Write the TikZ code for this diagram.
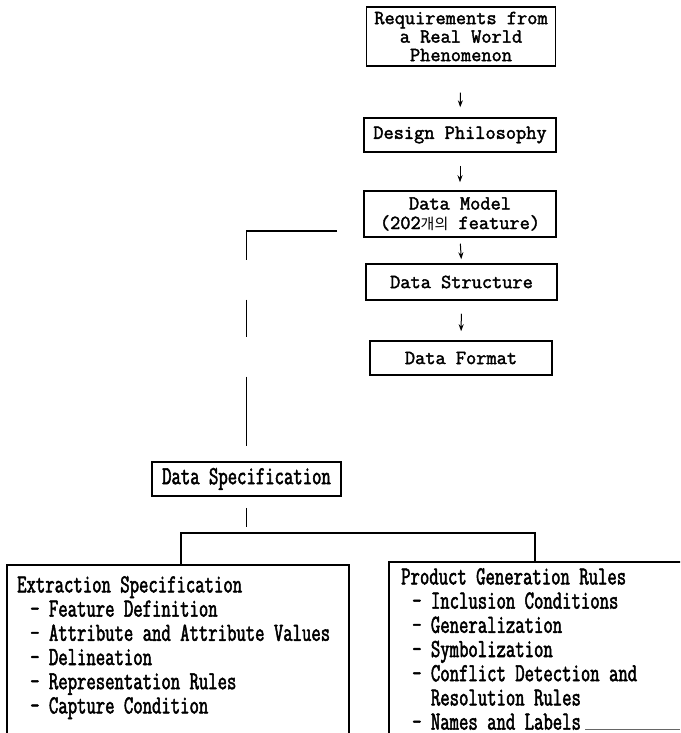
\documentclass[tikz,border=0pt]{standalone}
\usepackage{fontspec}
\usetikzlibrary{arrows.meta}
\newfontfamily\topf{Latin Modern Mono}[FakeStretch=0.99,FakeBold=2]
\newfontfamily\lowf{Latin Modern Mono}[FakeStretch=0.70,FakeBold=2]
\newfontfamily\krf{Noto Sans CJK KR}
\tikzset{
  box/.style={draw=black, line width=1.5pt, rectangle, inner sep=0pt, align=center, font=\topf\fontsize{20}{18.5}\selectfont},
  lowbox/.style={draw=black, line width=1.5pt, rectangle, inner sep=0pt, align=center, font=\lowf\fontsize{26}{24.5}\selectfont},
  listtext/.style={inner sep=0pt, align=left, anchor=north west, font=\lowf\fontsize{26}{24.2}\selectfont},
  arr/.style={line width=1pt, -{Stealth[length=7pt,width=5pt]}},
  conn/.style={line width=1.3pt},
  gappy/.style={line width=1.1pt, dash pattern=on 119pt off 40pt on 37pt off 40pt on 80pt}
}
\begin{document}
\begin{tikzpicture}[x=1pt,y=-1pt]
\useasboundingbox (0,0) rectangle (680,733);
\clip (0,0) rectangle (680,733);
% top column
\node[box, minimum width=189pt, minimum height=59pt] (req) at (461,36.5) {Requirements from\\a Real World\\Phenomenon};
\node[box, minimum width=192pt, minimum height=34pt] (dp) at (460,135) {Design Philosophy};
\node[box, minimum width=192pt, minimum height=46pt] (dm) at (460,214) {Data Model\\[1pt](202{\krf\fontsize{15}{15}\selectfont 개의} feature)};
\node[box, minimum width=191pt, minimum height=36pt] (ds) at (461.5,282) {Data Structure};
\node[box, minimum width=182pt, minimum height=34pt] (df) at (461,358) {Data Format};
\draw[arr, shorten <=26pt, shorten >=10pt] (req.south) -- (dp.north);
\draw[arr, shorten <=13pt, shorten >=8pt] (dp.south) -- (dm.north);
\draw[arr, shorten <=6pt, shorten >=4pt] (dm.south) -- (ds.north);
\draw[arr, shorten <=13pt, shorten >=9pt] (ds.south) -- (df.north);
% data specification
\node[lowbox, minimum width=189pt, minimum height=34pt] (spec) at (246.5,479) {Data Specification};
\coordinate (dmL) at (337,231);
\draw[gappy] (dmL) -| ([yshift=15pt]spec.north);
\draw[conn] ([yshift=-11pt]spec.south) -- ([yshift=-30pt]spec.south);
% bottom boxes
\node[draw=black, line width=1.5pt, rectangle, anchor=north west, minimum width=342pt, minimum height=200pt, inner sep=0pt] (ext) at (6,564) {};
\node[draw=black, line width=1.5pt, rectangle, anchor=north west, minimum width=320pt, minimum height=200pt, inner sep=0pt] (prod) at (388,561) {};
\coordinate (brL) at ([xshift=175pt]ext.north west);
\coordinate (brR) at ([xshift=147pt]prod.north west);
\draw[conn] (brL) -- (brL |- 0,533) -- (brR |- 0,533) -- (brR);
\node[listtext] (extt) at ([xshift=11pt,yshift=-12pt]ext.north west) {Extraction Specification\\
\hspace*{13pt}- Feature Definition\\
\hspace*{13pt}- Attribute and Attribute Values\\
\hspace*{13pt}- Delineation\\
\hspace*{13pt}- Representation Rules\\
\hspace*{13pt}- Capture Condition};
\node[listtext] (prodt) at ([xshift=13pt,yshift=-7pt]prod.north west) {Product Generation Rules\\
\hspace*{11pt}- Inclusion Conditions\\
\hspace*{11pt}- Generalization\\
\hspace*{11pt}- Symbolization\\
\hspace*{11pt}- Conflict Detection and\\
\hspace*{11pt}\phantom{- }Resolution Rules\\
\hspace*{11pt}- Names and Labels};
\coordinate (fragA) at (585,729);
\coordinate (fragB) at (680,729);
\draw[line width=0.8pt, black!60] (fragA) -- (fragB);
\end{tikzpicture}
\end{document}
